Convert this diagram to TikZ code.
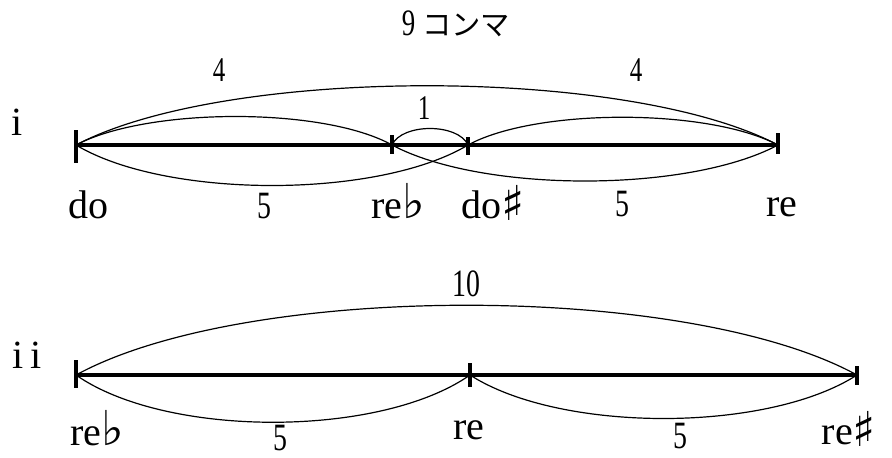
\documentclass[tikz,border=0pt]{standalone}
\usepackage{fontspec}
\setmainfont{Liberation Serif}
\newfontfamily\jpfont{Noto Sans CJK JP}
\newfontfamily\numfont[FakeStretch=0.72]{Liberation Serif}
\newfontfamily\musfont{DejaVu Sans}
\newcommand{\flt}{\smash{\raisebox{0pt}{\musfont\fontsize{36}{36}\selectfont ♭}}}
\newcommand{\shp}{\smash{\raisebox{-2pt}{\musfont\fontsize{36}{36}\selectfont ♯}}}
\begin{document}
\begin{tikzpicture}[x=0.75pt,y=-0.75pt,
  mainline/.style={line width=2.6pt},
  arcline/.style={line width=0.9pt},
  tickmark/.style={line width=3pt},
  lab/.style={font=\fontsize{30}{34}\selectfont, inner sep=0pt, anchor=base},
  num/.style={font=\numfont\fontsize{29}{34}\selectfont, inner sep=0pt, anchor=base},
  small/.style={font=\numfont\fontsize{26}{30}\selectfont, inner sep=0pt, anchor=base}]
\useasboundingbox (0,0) rectangle (892,457);
% ---- diagram i
\coordinate (do) at (76,145);
\coordinate (reb) at (392,145);
\coordinate (dos) at (468,145);
\coordinate (re) at (778,145);
\draw[mainline] (do) -- (re);
\draw[tickmark] (76,130) -- (76,163);
\draw[tickmark] (392,135) -- (392,154);
\draw[tickmark] (468,137) -- (468,155);
\draw[tickmark] (778,133) -- (778,154);
\draw[arcline] (do) .. controls +(150,-79) and +(-150,-79) .. (re);
\draw[arcline] (do) .. controls +(72,-38) and +(-68,-38) .. (reb);
\draw[arcline] (dos) .. controls +(68,-37) and +(-70,-37) .. (re);
\draw[arcline] (reb) .. controls +(10,-22) and +(-10,-22) .. (dos);
\draw[arcline] (do) .. controls +(90,54) and +(-90,54) .. (dos);
\draw[arcline] (reb) .. controls +(90,48) and +(-90,48) .. (re);
\node[lab] (ni) at (17,135) {i};
\node[inner sep=0pt, anchor=base] (title) at (456,35) {{\numfont\fontsize{28}{30}\selectfont 9}\,\,\,{\jpfont\fontsize{22}{26}\selectfont コンマ}};
\node[small] (fourA) at (219,81) {4};
\node[small] (fourB) at (636,81) {4};
\node[small] (one) at (424,119) {1};
\node[lab] (ldo) at (88,218) {do};
\node[num] (lfiveA) at (264,218) {5};
\node[lab] (lreb) at (398,218) {re\flt};
\node[lab] (ldos) at (493,218) {do\shp};
\node[num] (lfiveB) at (622,216) {5};
\node[lab] (lre) at (782,216) {re};
% ---- diagram ii
\coordinate (rb) at (76,375);
\coordinate (rn) at (470,375);
\coordinate (rs) at (857,375);
\draw[mainline] (rb) -- (rs);
\draw[tickmark] (76,360) -- (76,388);
\draw[tickmark] (470,363) -- (470,387);
\draw[tickmark] (857,366) -- (857,385);
\draw[arcline] (rb) .. controls +(170,-93) and +(-170,-93) .. (rs);
\draw[arcline] (rb) .. controls +(90,63) and +(-90,63) .. (rn);
\draw[arcline] (rn) .. controls +(90,58) and +(-90,58) .. (rs);
\node[lab] (nii) at (27,368) {i\,i};
\node[num] (ten) at (466,296) {10};
\node[lab] (lrb) at (97,445) {re\flt};
\node[num] (lfiveC) at (280,450) {5};
\node[lab] (lrn) at (469,439) {re};
\node[num] (lfiveD) at (680,448) {5};
\node[lab] (lrs) at (849,444) {re\shp};
\end{tikzpicture}
\end{document}
